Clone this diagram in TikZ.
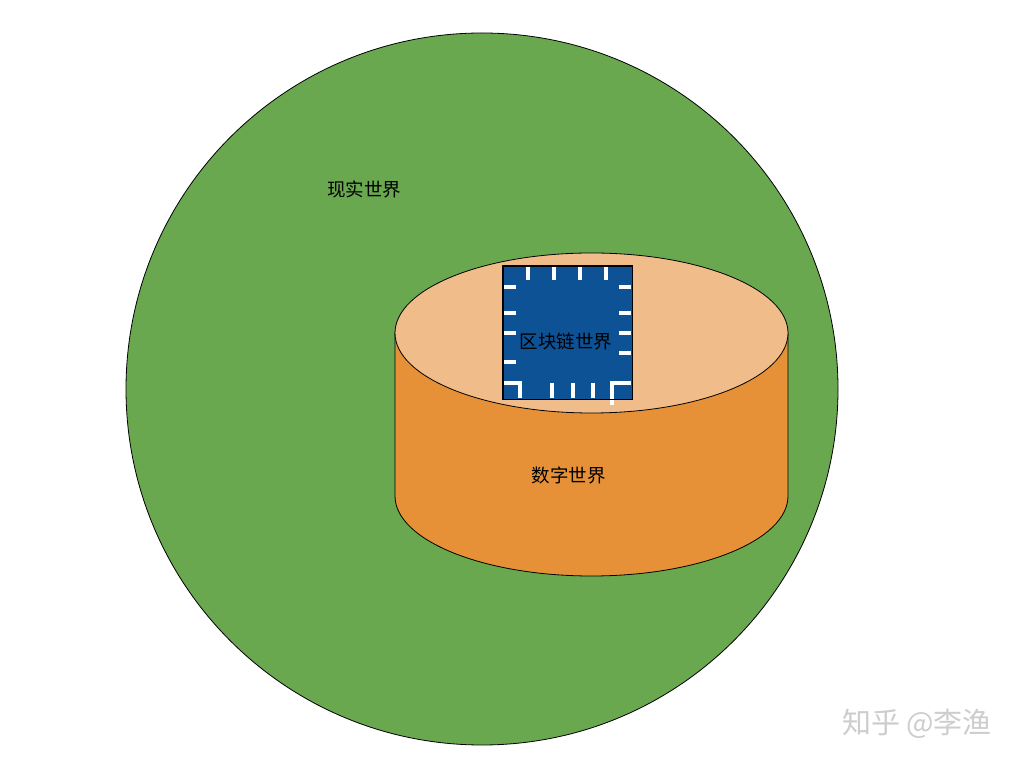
\documentclass[tikz,border=0pt]{standalone}
\usepackage{fontspec}
\usetikzlibrary{shapes.geometric}
\setmainfont{Noto Sans CJK SC}
\definecolor{worldgreen}{RGB}{106,168,79}
\definecolor{cylside}{RGB}{230,145,56}
\definecolor{cyltop}{RGB}{240,189,138}
\definecolor{chipblue}{RGB}{14,82,150}
\definecolor{wmgray}{RGB}{205,205,205}
\tikzset{
  outline/.style={draw=black, line width=0.8pt},
  label/.style={font=\fontsize{18.5}{22}\selectfont, text=black, inner sep=0pt},
  tick/.style={draw=white, line width=3.5pt},
}
\begin{document}
\begin{tikzpicture}[x=1pt,y=1pt]
\useasboundingbox (0,0) rectangle (1024,768);
% real world
\fill[white] (0,0) rectangle (1024,768);
\node[outline, fill=worldgreen, circle, minimum size=712pt, inner sep=0pt] (world) at (482,379) {};
\node[label] (realtext) at (364,579) {现实世界};
% cylinder
\filldraw[outline, fill=cylside] (395,435) -- (395,272) arc[start angle=180, end angle=360, x radius=196.5pt, y radius=80pt] -- (788,435) -- cycle;
\node[outline, fill=cyltop, ellipse, minimum width=393pt, minimum height=160pt, inner sep=0pt] (cyltopnode) at (591.5,435) {};
\node[label] (digital) at (568.5,293) {数字世界};
% chip
\node[outline, fill=chipblue, minimum width=129pt, minimum height=133pt, inner sep=0pt] (chip) at (567.5,435.5) {};
\foreach \x in {528,554,580,606} \draw[tick] (\x,501) -- (\x,488);
\foreach \y in {481,455,435,406} \draw[tick] (504,\y) -- (516,\y);
\foreach \y in {481,455,435,415} \draw[tick] (631,\y) -- (619,\y);
\foreach \x in {552,573,593} \draw[tick] (\x,370) -- (\x,385);
\draw[tick] (504,385) -- (520,385) -- (520,370);
\draw[tick] (631,385) -- (612,385) -- (612,363);
\draw[outline] (chip.south west) rectangle (chip.north east);
\node[label] (chaintext) at (566,426) {区块链世界};
% watermark
\node[font=\fontsize{29}{34}\selectfont, text=wmgray, inner sep=0pt] (mark) at (917,44) {知乎 @李渔};
\end{tikzpicture}
\end{document}
